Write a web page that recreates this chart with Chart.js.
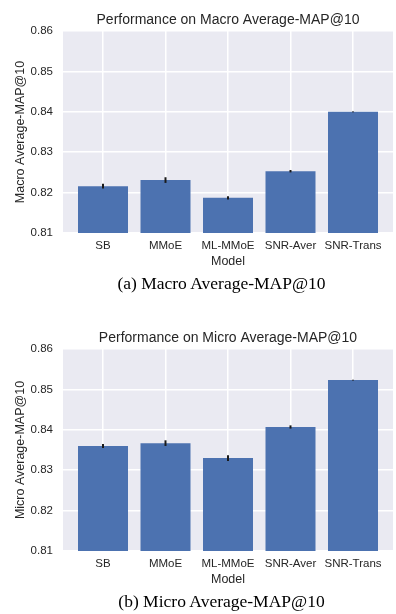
<!DOCTYPE html>
<html>
<head>
<meta charset="utf-8">
<script src="https://cdn.jsdelivr.net/npm/chart.js@4.4.1/dist/chart.umd.min.js"></script>
<style>
  html, body { margin: 0; padding: 0; background: #ffffff; overflow: hidden; }
  body { width: 396px; height: 614px; position: relative; }
  .wrap { position: absolute; left: 0; width: 396px; height: 275px; }
  .cap { position: absolute; left: 221.5px; transform: translateX(-50%); white-space: nowrap;
         font-family: "Liberation Serif", "Times New Roman", serif; font-size: 17.5px; line-height: 20px; color: #000; }
</style>
</head>
<body>
<div class="wrap" style="top:0px"><canvas id="c1" width="396" height="275"></canvas></div>
<div class="cap" style="top:273px">(a) Macro Average-MAP@10</div>
<div class="wrap" style="top:318px"><canvas id="c2" width="396" height="275"></canvas></div>
<div class="cap" style="top:591px">(b) Micro Average-MAP@10</div>
<script>
// ---- data ----
const categories = ["SB", "MMoE", "ML-MMoE", "SNR-Aver", "SNR-Trans"];
const macroValues = [0.8216, 0.8231, 0.8187, 0.8253, 0.8400];
const macroErrors = [0.0006, 0.0007, 0.0004, 0.0003, 0.0001];
const microValues = [0.8360, 0.8367, 0.8330, 0.8407, 0.8523];
const microErrors = [0.0005, 0.0007, 0.0007, 0.0004, 0.0001];
const yTicks = [0.81, 0.82, 0.83, 0.84, 0.85, 0.86];
const xTitle = "Model";

const FONT = '"Liberation Sans", Arial, sans-serif';
const TEXT = '#262626';

const bgPlugin = {
  id: 'plotBg',
  beforeDraw(chart) {
    const a = chart.chartArea, ctx = chart.ctx;
    ctx.save();
    ctx.fillStyle = '#EAEAF2';
    ctx.fillRect(a.left, a.top, a.right - a.left, a.bottom - a.top);
    ctx.restore();
  }
};

const errPlugin = {
  id: 'errBars',
  afterDatasetsDraw(chart) {
    const errs = chart.options.plugins.errBars.errors;
    const vals = chart.data.datasets[0].data;
    const xs = chart.scales.x, ys = chart.scales.y, ctx = chart.ctx;
    ctx.save();
    ctx.strokeStyle = '#1a1a1a';
    ctx.lineWidth = 2;
    vals.forEach((d, i) => {
      const x = xs.getPixelForValue(d.x);
      ctx.beginPath();
      ctx.moveTo(x, ys.getPixelForValue(d.y - errs[i]));
      ctx.lineTo(x, ys.getPixelForValue(d.y + errs[i]));
      ctx.stroke();
    });
    ctx.restore();
  }
};

function makeChart(id, titleText, yTitle, values, errors) {
  return new Chart(document.getElementById(id), {
    type: 'bar',
    data: {
      datasets: [{
        data: categories.map((c, i) => ({ x: i, y: values[i] })),
        backgroundColor: '#4C72B0',
        borderWidth: 0,
        barPercentage: 0.8,
        categoryPercentage: 1.0
      }]
    },
    options: {
      responsive: false,
      animation: false,
      layout: { padding: { left: 0, right: 3, top: 0, bottom: 0 } },
      plugins: {
        legend: { display: false },
        tooltip: { enabled: false },
        title: {
          display: true, text: titleText, color: TEXT, fullSize: false,
          font: { family: FONT, size: 14, weight: 'normal' },
          padding: { top: 12, bottom: 2.2 }
        },
        errBars: { errors: errors }
      },
      scales: {
        x: {
          type: 'linear',
          offset: false,
          min: -0.64, max: 4.64,
          afterBuildTicks(scale) { scale.ticks = categories.map((c, i) => ({ value: i })); },
          afterFit(scale) { scale.height = 42; },
          ticks: {
            color: TEXT, font: { family: FONT, size: 11.5 }, padding: 6,
            autoSkip: false, maxRotation: 0,
            callback: (v) => categories[v] !== undefined ? categories[v] : ''
          },
          grid: { color: '#ffffff', lineWidth: 1.5, drawTicks: false, offset: false },
          border: { display: false },
          title: { display: true, text: xTitle, color: TEXT, font: { family: FONT, size: 12.5 }, padding: { top: 0, bottom: 5.8 } }
        },
        y: {
          min: 0.81, max: 0.86,
          afterBuildTicks(scale) { scale.ticks = yTicks.map(v => ({ value: v })); },
          afterFit(scale) { scale.width = 63; },
          ticks: {
            color: TEXT, font: { family: FONT, size: 11.5 }, padding: 10,
            callback: (v) => v.toFixed(2)
          },
          grid: { color: '#ffffff', lineWidth: 1.5, drawTicks: false },
          border: { display: false },
          title: { display: true, text: yTitle, color: TEXT, font: { family: FONT, size: 12.5 }, padding: { top: 13.5, bottom: 0 } }
        }
      }
    },
    plugins: [bgPlugin, errPlugin]
  });
}

makeChart('c1', 'Performance on Macro Average-MAP@10', 'Macro Average-MAP@10', macroValues, macroErrors);
makeChart('c2', 'Performance on Micro Average-MAP@10', 'Micro Average-MAP@10', microValues, microErrors);
</script>
</body>
</html>
